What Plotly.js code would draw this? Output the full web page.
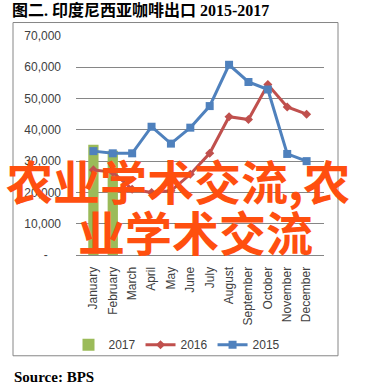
<!DOCTYPE html>
<html><head><meta charset="utf-8">
<script src="https://cdn.plot.ly/plotly-3.0.1.min.js"></script>
<style>html,body{margin:0;padding:0;background:#fff}#chart{width:389px;height:388px}</style>
</head><body><div id="chart"></div>
<script>
const months = ["January","February","March","April","May","June","July","August","September","October","November","December"];
const y2017 = [35200, 33300, null, null, null, null, null, null, null, null, null, null];
const y2016 = [27200, 26500, 21000, 20000, 20500, 25800, 32500, 44200, 43300, 54500, 47300, 45000];
const y2015 = [33200, 32500, 32500, 41000, 35600, 40700, 47600, 60800, 55300, 52900, 32300, 30000];
const yTickVals = [0, 10000, 20000, 30000, 40000, 50000, 60000, 70000];
const yTickText = ["-\u00a0\u00a0\u00a0\u00a0", "10,000", "20,000", "30,000", "40,000", "50,000", "60,000", "70,000"];
const titleText = "图二. 印度尼西亚咖啡出口 2015-2017";
const sourceText = "Source: BPS";
const watermark1 = "农业学术交流,农";
const watermark2 = "业学术交流";

const L = 76, R = 324, T = 35.5, B = 255;
const px = v => (v - L) / (R - L);
const py = v => (B - v) / (B - T);
const tickFont = {family: "Liberation Sans, Arial, sans-serif", size: 12, color: "#404040"};

const traces = [
  {type: "bar", name: "2017", x: months, y: y2017, marker: {color: "#9bbb59"}, hoverinfo: "skip"},
  {type: "scatter", mode: "lines+markers", name: "2016", x: months, y: y2016,
   line: {color: "#c0504d", width: 3}, marker: {symbol: "diamond", size: 7, color: "#c0504d"}, hoverinfo: "skip"},
  {type: "scatter", mode: "lines+markers", name: "2015", x: months, y: y2015,
   line: {color: "#4f81bd", width: 3}, marker: {symbol: "square", size: 8, color: "#4f81bd"}, hoverinfo: "skip"}
];

const layout = {
  width: 389, height: 388,
  margin: {l: L, r: 389 - R, t: T, b: 388 - B, pad: 0},
  paper_bgcolor: "#fff", plot_bgcolor: "#fff",
  showlegend: true,
  bargap: 0.47,
  title: {text: titleText, font: {family: "Liberation Serif, Noto Sans CJK SC, serif", size: 16, color: "#000", weight: "bold"},
          xref: "container", yref: "container", x: 12/389, xanchor: "left", y: 1 - 10/388, yanchor: "middle"},
  xaxis: {type: "category", tickangle: -90, tickfont: tickFont, showgrid: false, showline: true,
          linecolor: "#868686", linewidth: 1, ticks: "", ticklabelstandoff: 6, fixedrange: true},
  yaxis: {range: [0, 70000], tickvals: yTickVals, ticktext: yTickText, tickfont: tickFont,
          showgrid: true, gridcolor: "#868686", gridwidth: 1, zeroline: false, showline: false,
          ticks: "", ticklabelstandoff: 14, fixedrange: true},
  legend: {orientation: "h", x: px(177), xanchor: "center", y: py(345), yanchor: "middle",
           font: {family: "Liberation Sans, Arial, sans-serif", size: 12, color: "#404040"},
           traceorder: "normal", bgcolor: "rgba(0,0,0,0)", itemwidth: 30},
  shapes: [{type: "rect", xref: "paper", yref: "paper", x0: px(13), x1: px(338), y0: py(356), y1: py(22),
            line: {color: "#868686", width: 1}, fillcolor: "rgba(0,0,0,0)", layer: "below"}],
  annotations: [
    {text: sourceText, xref: "paper", yref: "paper", x: px(12), xanchor: "left", y: py(377), yanchor: "middle",
     showarrow: false, font: {family: "Liberation Serif, serif", size: 15, color: "#000", weight: "bold"}},
    {text: watermark1, xref: "paper", yref: "paper", x: px(178), xanchor: "center", y: py(179), yanchor: "middle",
     showarrow: false, font: {family: "Noto Sans CJK SC, sans-serif", size: 47, color: "#ff4f0f", weight: "bold"}},
    {text: watermark2, xref: "paper", yref: "paper", x: px(195), xanchor: "center", y: py(230), yanchor: "middle",
     showarrow: false, font: {family: "Noto Sans CJK SC, sans-serif", size: 47, color: "#ff4f0f", weight: "bold"}}
  ]
};

Plotly.newPlot("chart", traces, layout, {displayModeBar: false, staticPlot: true});
</script></body></html>
